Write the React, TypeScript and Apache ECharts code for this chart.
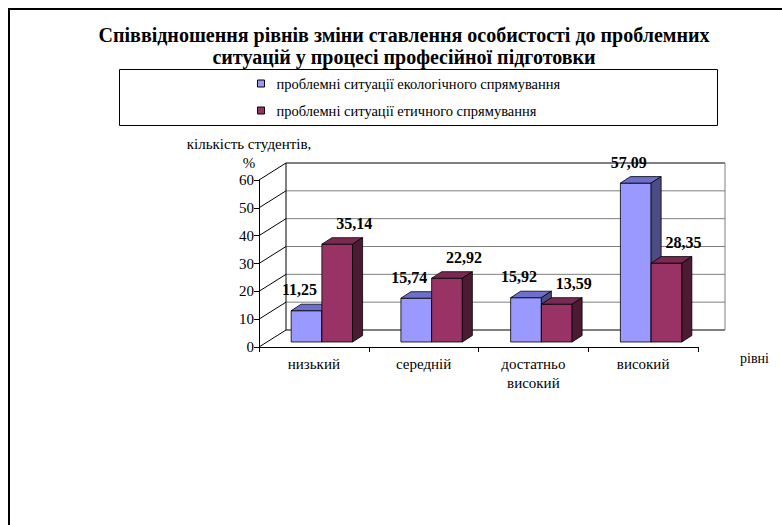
import React, { useEffect, useRef } from "react";
import * as echarts from "echarts";

const categories = ["низький", "середній", "достатньо\nвисокий", "високий"];
const ecoValues = [11.25, 15.74, 15.92, 57.09];
const ethicValues = [35.14, 22.92, 13.59, 28.35];
const yTicks = [0, 10, 20, 30, 40, 50, 60];
const seriesNames = [
  "проблемні ситуації екологічного спрямування",
  "проблемні ситуації етичного спрямування",
];
const titleText =
  "Співвідношення рівнів зміни ставлення особистості до проблемних\nситуацій у процесі професійної підготовки";
const yName = "кількість студентів,\n%";
const xName = "рівні";

const SERIF = "Liberation Serif";
const WALL_DX = 27;
const WALL_DY = -17;
const BAR_DX = 8;
const BAR_DY = -5;
const DEPTH_DX = 10;
const DEPTH_DY = -6.5;

const palettes = [
  { front: "#9999FF", top: "#6E6ECC", side: "#4D4D85" },
  { front: "#993366", top: "#7A2952", side: "#4D1A33" },
];

function fmt(v: number) {
  return v.toFixed(2).replace(".", ",");
}

export default function App() {
  const ref = useRef<HTMLDivElement>(null);
  useEffect(() => {
    if (!ref.current) return;
    const chart = echarts.init(ref.current, undefined, { renderer: "svg" });

    const wallSeries = {
      type: "custom",
      name: "wall",
      z: 1,
      silent: true,
      clip: false,
      data: [[0, 0]],
      encode: { x: 0, y: 1 },
      renderItem: (params: any, api: any) => {
        const cs = params.coordSys;
        const x0 = cs.x;
        const x1 = cs.x + cs.width;
        const children: any[] = [];
        yTicks.forEach((v, i) => {
          const y = api.coord([0, v])[1];
          const edge = i === 0 || i === yTicks.length - 1;
          children.push({
            type: "line",
            shape: { x1: x0 + WALL_DX, y1: y + WALL_DY, x2: x1 + WALL_DX, y2: y + WALL_DY },
            style: { stroke: edge ? "#000" : "#7f7f7f", lineWidth: 1 },
          });
          children.push({
            type: "line",
            shape: { x1: x0, y1: y, x2: x0 + WALL_DX, y2: y + WALL_DY },
            style: { stroke: "#000", lineWidth: 1 },
          });
        });
        const yb = api.coord([0, yTicks[0]])[1] + WALL_DY;
        const yt = api.coord([0, yTicks[yTicks.length - 1]])[1] + WALL_DY;
        children.push({
          type: "line",
          shape: { x1: x0 + WALL_DX, y1: yb, x2: x0 + WALL_DX, y2: yt },
          style: { stroke: "#000", lineWidth: 1 },
        });
        children.push({
          type: "line",
          shape: { x1: x1 + WALL_DX, y1: yb, x2: x1 + WALL_DX, y2: yt },
          style: { stroke: "#7f7f7f", lineWidth: 1 },
        });
        return { type: "group", children };
      },
    };

    const makeBarSeries = (s: number, values: number[]) => ({
      type: "custom",
      name: seriesNames[s],
      z: 2 + s,
      clip: false,
      itemStyle: { color: palettes[s].front },
      data: values.map((v, i) => [i, v]),
      encode: { x: 0, y: 1 },
      renderItem: (params: any, api: any) => {
        const idx = api.value(0);
        const val = api.value(1);
        const top = api.coord([idx, val]);
        const base = api.coord([idx, 0]);
        const band = api.size([1, 0])[0];
        const bw = band * 0.28;
        const cx = top[0] + BAR_DX;
        const xl = s === 0 ? cx - bw : cx;
        const xr = xl + bw;
        const yt = top[1] + BAR_DY;
        const yb = base[1] + BAR_DY;
        const p = palettes[s];
        const stroke = { stroke: "#000", lineWidth: 0.8, lineJoin: "round" };
        return {
          type: "group",
          children: [
            {
              type: "polygon",
              shape: { points: [[xl, yb], [xr, yb], [xr, yt], [xl, yt]] },
              style: { fill: p.front, ...stroke },
            },
            {
              type: "polygon",
              shape: {
                points: [[xl, yt], [xr, yt], [xr + DEPTH_DX, yt + DEPTH_DY], [xl + DEPTH_DX, yt + DEPTH_DY]],
              },
              style: { fill: p.top, ...stroke },
            },
            {
              type: "polygon",
              shape: {
                points: [[xr, yt], [xr + DEPTH_DX, yt + DEPTH_DY], [xr + DEPTH_DX, yb + DEPTH_DY], [xr, yb]],
              },
              style: { fill: p.side, ...stroke },
            },
            {
              type: "text",
              z2: 10,
              style: {
                x: (xl + xr) / 2 + (s === 0 ? -7 : 17),
                y: yt - 21,
                text: fmt(val),
                fill: "#000",
                font: `bold 16px ${SERIF}`,
                textAlign: "center",
                textVerticalAlign: "middle",
              },
            },
          ],
        };
      },
    });

    chart.setOption({
      animation: false,
      backgroundColor: "#fff",
      legend: {
        orient: "vertical",
        left: 257,
        top: 76,
        itemGap: 12,
        itemWidth: 7,
        itemHeight: 7,
        icon: "rect",
        padding: 0,
        textStyle: {
          fontFamily: SERIF,
          fontSize: 14.5,
          lineHeight: 15,
          color: "#000",
          padding: [0, 0, 0, 7],
        },
        data: seriesNames.map((n, i) => ({
          name: n,
          itemStyle: { color: palettes[i].front, borderColor: "#000", borderWidth: 1 },
        })),
      },
      graphic: [
        {
          type: "line",
          shape: { x1: 8, y1: 9, x2: 782, y2: 9 },
          style: { stroke: "#000", lineWidth: 2 },
        },
        {
          type: "line",
          shape: { x1: 9, y1: 8, x2: 9, y2: 525 },
          style: { stroke: "#000", lineWidth: 2 },
        },
        {
          type: "rect",
          shape: { x: 119.5, y: 69.5, width: 598, height: 56 },
          style: { fill: "none", stroke: "#000", lineWidth: 1 },
          z: -1,
        },
        {
          type: "text",
          x: 404,
          y: 24,
          style: {
            text: titleText,
            fill: "#000",
            font: `bold 20px ${SERIF}`,
            lineHeight: 22,
            textAlign: "center",
            textVerticalAlign: "top",
          },
        },
      ],
      grid: { left: 259, right: 84, top: 180, bottom: 178 },
      xAxis: {
        type: "category",
        data: categories,
        name: xName,
        nameLocation: "end",
        nameGap: 42,
        nameTextStyle: {
          fontFamily: SERIF,
          fontSize: 14,
          lineHeight: 22,
          color: "#000",
          verticalAlign: "top",
        },
        axisLine: { show: true, lineStyle: { color: "#000", width: 1 } },
        axisTick: { show: true, alignWithLabel: false, length: 5, lineStyle: { color: "#000" } },
        axisLabel: {
          fontFamily: SERIF,
          fontSize: 15,
          lineHeight: 19,
          color: "#000",
          margin: 7,
          interval: 0,
        },
        splitLine: { show: false },
      },
      yAxis: {
        type: "value",
        min: 0,
        max: 60,
        interval: 10,
        name: yName,
        nameLocation: "end",
        nameGap: 8,
        nameTextStyle: {
          fontFamily: SERIF,
          fontSize: 15,
          lineHeight: 19,
          color: "#000",
          align: "center",
          padding: [0, 20, 0, 0],
        },
        axisLine: { show: true, lineStyle: { color: "#000", width: 1 } },
        axisTick: { show: true, length: 5, lineStyle: { color: "#000" } },
        axisLabel: { fontFamily: SERIF, fontSize: 15, color: "#000", margin: 5 },
        splitLine: { show: false },
      },
      series: [wallSeries, makeBarSeries(0, ecoValues), makeBarSeries(1, ethicValues)],
    });
    return () => chart.dispose();
  }, []);
  return (
    <div
      ref={ref}
      style={{ position: "fixed", left: 0, top: 0, width: 782, height: 525, background: "#fff" }}
    />
  );
}
